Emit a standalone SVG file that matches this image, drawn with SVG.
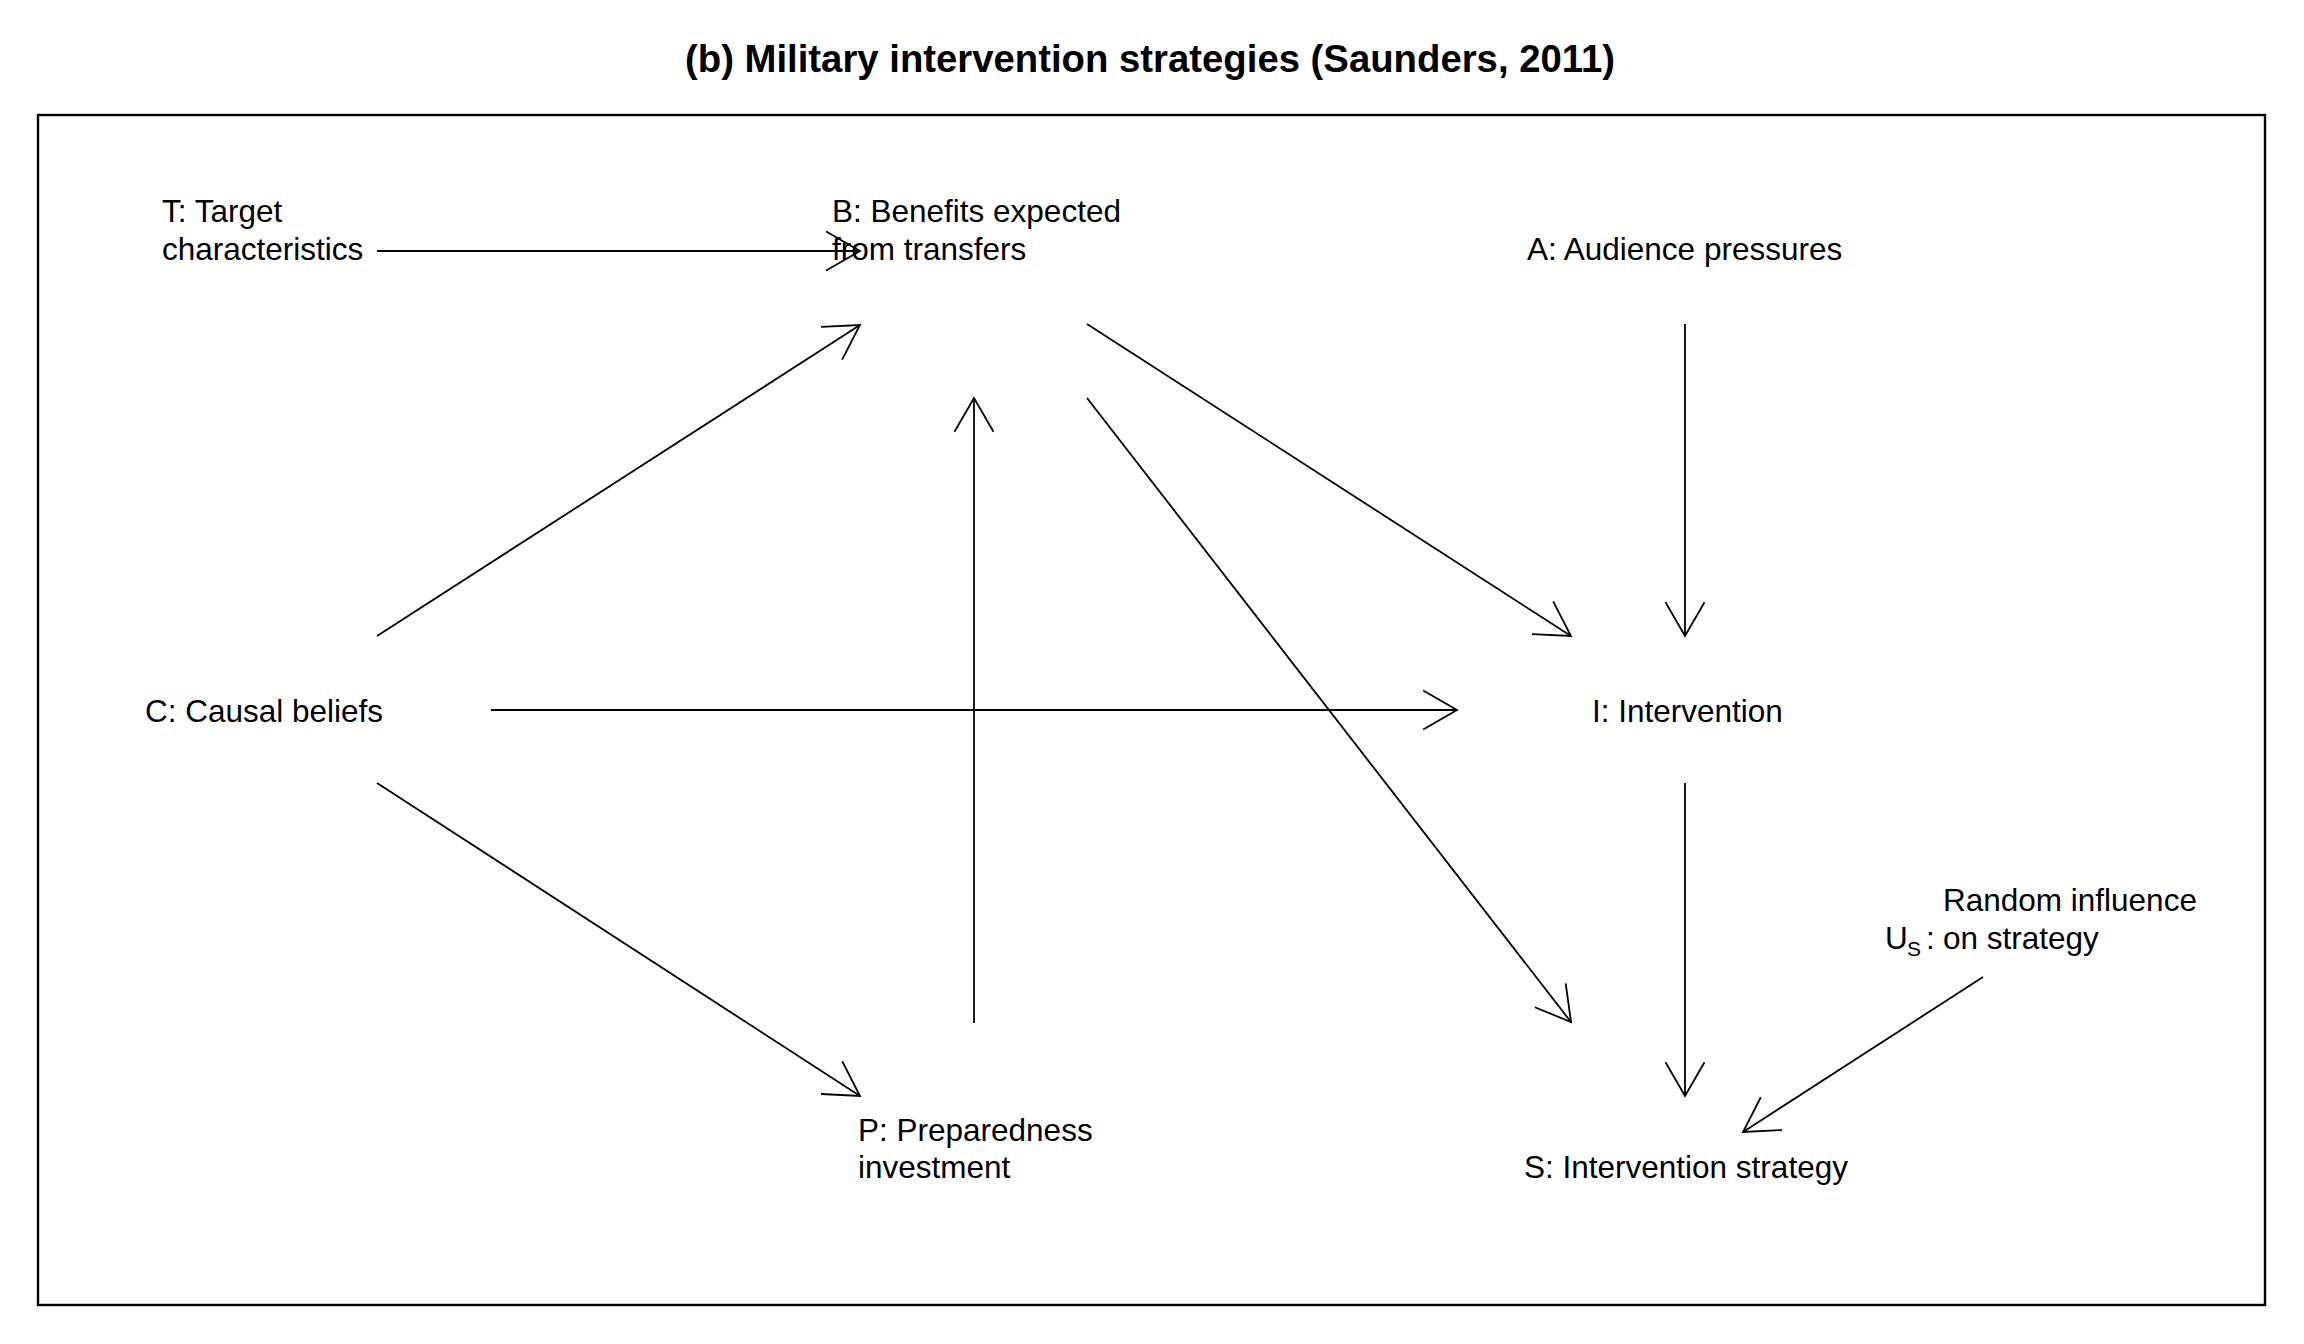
<svg xmlns="http://www.w3.org/2000/svg" width="2304" height="1344" viewBox="0 0 2304 1344">
<style>
  text { font-family: "Liberation Sans", Arial, sans-serif; font-size: 31.5px; fill: #000; }
  .title { font-size: 38.3px; font-weight: bold; }
  .sub { font-size: 21px; }
  .edge { stroke: #000; stroke-width: 1.8; fill: none; marker-end: url(#arr); }
  .frame { stroke: #000; stroke-width: 2.4; fill: none; }
</style>
<defs>
  <marker id="arr" markerUnits="userSpaceOnUse" markerWidth="80" markerHeight="80" refX="0" refY="0" orient="auto" overflow="visible">
    <path d="M -33.8 -19.5 L 0 0 L -33.8 19.5" fill="none" stroke="#000" stroke-width="1.8"/>
  </marker>
</defs>
<rect width="2304" height="1344" fill="#fff"/>
<text class="title" x="1150" y="72" text-anchor="middle">(b) Military intervention strategies (Saunders, 2011)</text>
<rect class="frame" x="38" y="115" width="2227" height="1190"/>

<g id="connectors">
  <line class="edge" x1="377" y1="251" x2="860" y2="251"/>
  <line class="edge" x1="377" y1="636" x2="860" y2="325"/>
  <line class="edge" x1="491" y1="710" x2="1457" y2="710"/>
  <line class="edge" x1="377" y1="783" x2="860" y2="1096"/>
  <line class="edge" x1="974" y1="1023" x2="974" y2="398"/>
  <line class="edge" x1="1087" y1="324" x2="1571" y2="636"/>
  <line class="edge" x1="1087" y1="398" x2="1571" y2="1022"/>
  <line class="edge" x1="1685" y1="324" x2="1685" y2="636"/>
  <line class="edge" x1="1685" y1="783" x2="1685" y2="1096"/>
  <line class="edge" x1="1983" y1="977" x2="1743" y2="1132"/>
</g>

<g id="node-T">
  <text x="162" y="222">T: Target</text>
  <text x="162" y="260">characteristics</text>
</g>
<g id="node-B">
  <text x="832" y="222">B: Benefits expected</text>
  <text x="832" y="260">from transfers</text>
</g>
<g id="node-A">
  <text x="1527" y="260">A: Audience pressures</text>
</g>
<g id="node-C">
  <text x="145" y="722">C: Causal beliefs</text>
</g>
<g id="node-I">
  <text x="1592" y="722">I: Intervention</text>
</g>
<g id="node-P">
  <text x="858" y="1141">P: Preparedness</text>
  <text x="858" y="1178">investment</text>
</g>
<g id="node-S">
  <text x="1524" y="1178">S: Intervention strategy</text>
</g>
<g id="node-US">
  <text x="1943" y="911">Random influence</text>
  <text x="1885" y="949">U</text>
  <text class="sub" x="1907" y="956">S</text>
  <text x="1926" y="949">:</text>
  <text x="1943" y="949">on strategy</text>
</g>
</svg>
